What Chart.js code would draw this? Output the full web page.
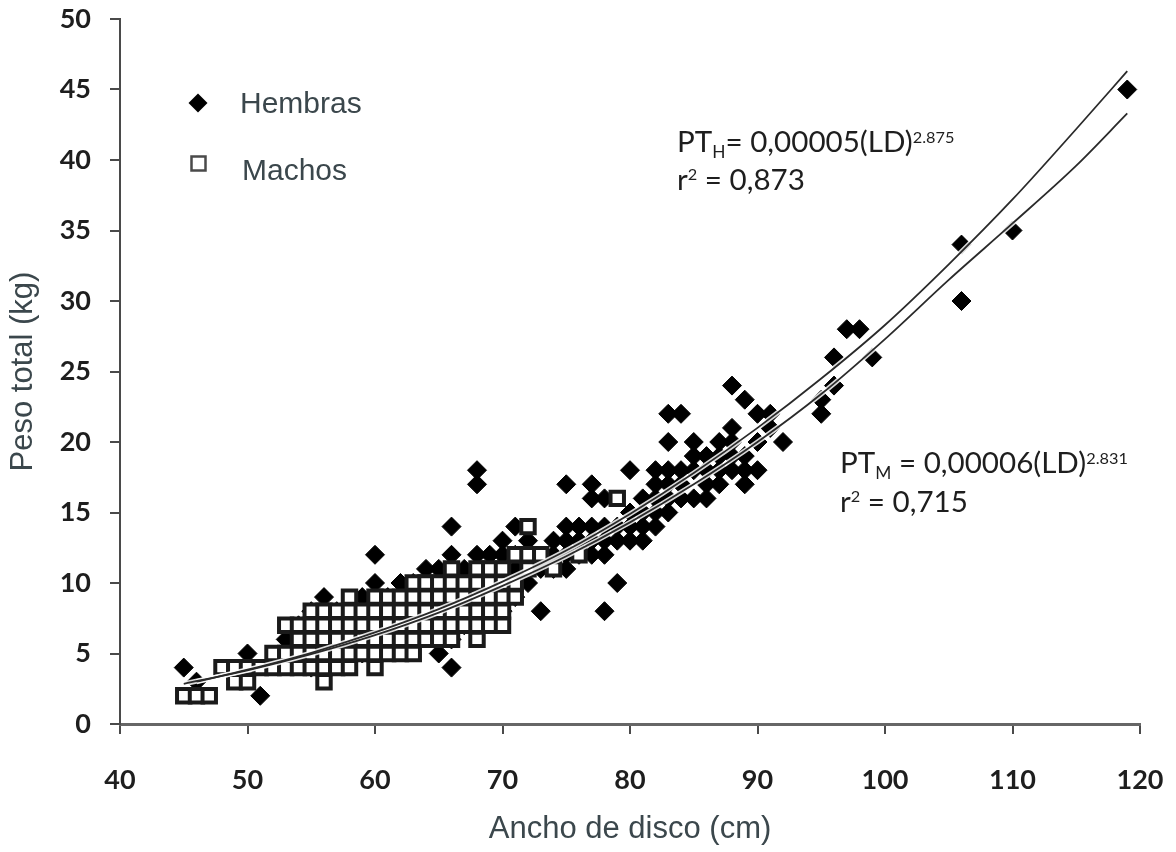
<!DOCTYPE html>
<html>
<head>
<meta charset="utf-8">
<script src="https://cdn.jsdelivr.net/npm/chart.js@4.4.1/dist/chart.umd.min.js"></script>
<style>
  html, body { margin: 0; padding: 0; background: #ffffff; }
  canvas { display: block; }
</style>
</head>
<body>
<canvas id="grafico" width="1176" height="852"></canvas>
<script>
// Ticks of both axes
const ticksAncho = [40, 50, 60, 70, 80, 90, 100, 110, 120];
const ticksPeso = [0, 5, 10, 15, 20, 25, 30, 35, 40, 45, 50];

// Series names
const nombresSeries = ['Hembras', 'Machos'];

// Females: [disc width (cm), total weight (kg)]
const hembras = [
  [45,4],[46,3],[50,5],[51,2],[53,5],[53,6],[54,5],[54,7],[55,4],[55,5],[55,6],[55,7],[55,8],
  [56,5],[56,6],[56,7],[56,9],[57,5],[57,6],[57,7],[57,8],[58,5],[58,6],[58,7],[58,8],
  [59,5],[59,6],[59,7],[59,8],[59,9],[60,6],[60,7],[60,8],[60,10],[60,12],[61,6],[61,7],[61,8],[61,9],
  [62,6],[62,7],[62,8],[62,9],[62,10],[63,6],[63,7],[63,8],[63,9],[63,10],[64,7],[64,8],[64,9],[64,10],[64,11],
  [65,5],[65,8],[65,9],[65,10],[65,11],[66,4],[66,6],[66,7],[66,8],[66,9],[66,10],[66,11],[66,12],[66,14],
  [67,7],[67,8],[67,9],[67,10],[67,11],[68,9],[68,10],[68,12],[68,17],[68,18],
  [69,8],[69,9],[69,10],[69,11],[69,12],[70,8],[70,9],[70,10],[70,11],[70,12],[70,13],
  [71,9],[71,10],[71,11],[71,12],[71,14],[72,10],[72,11],[72,12],[72,13],
  [73,8],[73,11],[74,11],[74,12],[74,13],[75,11],[75,12],[75,13],[75,14],[75,17],
  [76,12],[76,13],[76,14],[77,12],[77,13],[77,14],[77,16],[77,17],
  [78,8],[78,12],[78,13],[78,14],[78,16],[79,10],[79,13],[79,14],
  [80,13],[80,14],[80,15],[80,18],[81,13],[81,14],[81,15],[81,16],
  [82,14],[82,15],[82,16],[82,17],[82,18],[83,15],[83,16],[83,17],[83,18],[83,20],[83,22],
  [84,16],[84,17],[84,18],[84,22],[85,16],[85,18],[85,19],[85,20],
  [86,16],[86,17],[86,18],[86,19],[87,17],[87,18],[87,19],[87,20],
  [88,18],[88,19],[88,20],[88,21],[88,24],[89,17],[89,18],[89,19],[89,23],
  [90,18],[90,20],[90,22],[91,21],[91,22],[92,20],[95,22],[95,23],[96,24],[96,26],
  [97,28],[98,28],[99,26],[106,30],[106,34],[110,35],[119,45]
];

// Males: [disc width (cm), total weight (kg)]
const machos = [
  [45,2],[46,2],[47,2],[48,4],[49,3],[49,4],[50,3],[50,4],[51,4],[52,4],[52,5],
  [53,4],[53,5],[53,7],[54,4],[54,5],[54,6],[54,7],[55,4],[55,5],[55,6],[55,7],[55,8],
  [56,3],[56,4],[56,5],[56,6],[56,7],[56,8],[57,4],[57,5],[57,6],[57,7],[57,8],
  [58,4],[58,5],[58,6],[58,7],[58,8],[58,9],[59,5],[59,6],[59,7],[59,8],
  [60,4],[60,5],[60,6],[60,7],[60,8],[60,9],[61,5],[61,6],[61,7],[61,8],[61,9],
  [62,5],[62,6],[62,7],[62,8],[62,9],[63,5],[63,6],[63,7],[63,8],[63,9],[63,10],
  [64,6],[64,7],[64,8],[64,9],[64,10],[65,6],[65,7],[65,8],[65,9],[65,10],
  [66,6],[66,7],[66,8],[66,9],[66,10],[66,11],[67,7],[67,8],[67,9],[67,10],
  [68,6],[68,7],[68,8],[68,9],[68,10],[68,11],[69,7],[69,8],[69,9],[69,10],[69,11],
  [70,7],[70,8],[70,9],[70,10],[70,11],[71,9],[71,10],[71,12],
  [72,11],[72,12],[72,14],[73,12],[74,11],[76,12],[79,16]
];

// Fitted weight-width curves (points along each trend line)
const curvaHembras = [
  [46,3.0],[50,3.85],[55,5.05],[60,6.5],[65,8.15],[70,10.1],[75,12.3],[80,14.9],
  [85,17.8],[90,21.0],[95,24.5],[100,28.3],[105,32.6],[110,37.2],[115,42.2],[119,46.3]
];
const curvaMachos = [
  [45,2.85],[50,3.8],[55,4.95],[60,6.3],[65,7.9],[70,9.8],[75,11.9],[80,14.3],
  [85,17.0],[90,20.0],[95,23.4],[100,27.3],[105,31.5],[110,35.5],[115,39.6],[119,43.3]
];

// Equation annotations: [text, kind] where kind is base / sub / sup
const ecuacionHembras = [['PT', 'base'], ['H', 'sub'], ['= 0,00005(LD)', 'base'], ['2.875', 'sup']];
const r2Hembras = [['r', 'base'], ['2', 'sup2'], [' = 0,873', 'base']];
const ecuacionMachos = [['PT', 'base'], ['M', 'sub'], [' = 0,00006(LD)', 'base'], ['2.831', 'sup']];
const r2Machos = [['r', 'base'], ['2', 'sup2'], [' = 0,715', 'base']];

const toXY = (pares) => pares.map(([x, y]) => ({ x, y }));

const TEXT_DARK = '#1e1e1e';
const TEXT_SLATE = '#3b474c';

const estilos = {
  base: { size: 29, dy: 0 },
  sub: { size: 17, dy: 6 },
  sup: { size: 16, dy: -9 },
  sup2: { size: 16, dy: -10 }
};

function textoRico(ctx, x, y, partes, escalaX) {
  ctx.save();
  ctx.translate(x, y);
  ctx.scale(escalaX, 1);
  ctx.fillStyle = TEXT_DARK;
  ctx.textBaseline = 'alphabetic';
  ctx.textAlign = 'left';
  let cx = 0;
  for (const [t, tipo] of partes) {
    const e = estilos[tipo];
    ctx.font = e.size + 'px Lato';
    ctx.fillText(t, cx, e.dy);
    cx += ctx.measureText(t).width;
  }
  ctx.restore();
}

const anotaciones = {
  id: 'anotaciones',
  afterDraw(chart) {
    const ctx = chart.ctx;
    // regression equations
    textoRico(ctx, 677, 152, ecuacionHembras, 1.02);
    textoRico(ctx, 677, 190, r2Hembras, 1.02);
    textoRico(ctx, 840, 473, ecuacionMachos, 1.02);
    textoRico(ctx, 840, 512, r2Machos, 1.02);

    // legend
    ctx.save();
    ctx.fillStyle = '#000000';
    ctx.beginPath();
    const dx = 198, dy = 103, r = 9.5;
    ctx.moveTo(dx, dy - r); ctx.lineTo(dx + r, dy); ctx.lineTo(dx, dy + r); ctx.lineTo(dx - r, dy);
    ctx.closePath();
    ctx.fill();
    ctx.strokeStyle = '#4a4a4a';
    ctx.lineWidth = 2.5;
    ctx.fillStyle = '#ffffff';
    ctx.beginPath();
    ctx.rect(191.5, 156.5, 14, 14);
    ctx.fill();
    ctx.stroke();
    ctx.fillStyle = TEXT_SLATE;
    ctx.font = '30px "Liberation Sans"';
    ctx.textBaseline = 'alphabetic';
    ctx.fillText(nombresSeries[0], 240, 113);
    ctx.fillText(nombresSeries[1], 242, 180);
    ctx.restore();
  }
};

new Chart(document.getElementById('grafico'), {
  type: 'scatter',
  data: {
    datasets: [
      {
        label: nombresSeries[0],
        data: toXY(hembras),
        pointStyle: 'rectRot',
        pointRadius: 9.5,
        pointBackgroundColor: '#000000',
        pointBorderColor: '#000000',
        pointBorderWidth: 1,
        order: 4
      },
      {
        label: nombresSeries[1],
        data: toXY(machos),
        pointStyle: 'rect',
        pointRadius: 9.5,
        pointBackgroundColor: '#ffffff',
        pointBorderColor: '#1a1a1a',
        pointBorderWidth: 4,
        order: 3
      },
      {
        label: 'halo H',
        type: 'line',
        data: toXY(curvaHembras),
        borderColor: 'rgba(255,255,255,0.85)',
        borderWidth: 5,
        pointRadius: 0,
        cubicInterpolationMode: 'monotone',
        fill: false,
        order: 2
      },
      {
        label: 'halo M',
        type: 'line',
        data: toXY(curvaMachos),
        borderColor: 'rgba(255,255,255,0.85)',
        borderWidth: 5,
        pointRadius: 0,
        cubicInterpolationMode: 'monotone',
        fill: false,
        order: 2
      },
      {
        label: 'PT H',
        type: 'line',
        data: toXY(curvaHembras),
        borderColor: '#2a2a2a',
        borderWidth: 1.8,
        pointRadius: 0,
        cubicInterpolationMode: 'monotone',
        fill: false,
        order: 1
      },
      {
        label: 'PT M',
        type: 'line',
        data: toXY(curvaMachos),
        borderColor: '#2a2a2a',
        borderWidth: 1.8,
        pointRadius: 0,
        cubicInterpolationMode: 'monotone',
        fill: false,
        order: 1
      }
    ]
  },
  options: {
    responsive: false,
    animation: false,
    devicePixelRatio: 1,
    layout: { padding: { left: 0, top: 19, right: 36, bottom: 0 } },
    plugins: { legend: { display: false }, tooltip: { enabled: false } },
    scales: {
      x: {
        type: 'linear',
        min: 40,
        max: 120,
        afterBuildTicks: (s) => { s.ticks = ticksAncho.map(v => ({ value: v })); },
        afterFit: (s) => { s.height = 128; s.paddingLeft = 0; s.paddingRight = 0; },
        ticks: { color: TEXT_DARK, font: { family: 'Lato', size: 27, weight: 'bold' }, padding: 30 },
        grid: { drawOnChartArea: false, drawTicks: true, tickLength: 10, color: '#4a4a4a', lineWidth: 2 },
        border: { color: '#666666', width: 3 },
        title: {
          display: true,
          text: 'Ancho de disco (cm)',
          color: TEXT_SLATE,
          font: { family: 'Liberation Sans', size: 31 },
          padding: { top: 0, bottom: 4 }
        }
      },
      y: {
        type: 'linear',
        min: 0,
        max: 50,
        afterBuildTicks: (s) => { s.ticks = ticksPeso.map(v => ({ value: v })); },
        afterFit: (s) => { s.width = 120; s.paddingTop = 0; s.paddingBottom = 0; },
        ticks: { color: TEXT_DARK, font: { family: 'Lato', size: 27, weight: 'bold' }, padding: 19 },
        grid: { drawOnChartArea: false, drawTicks: true, tickLength: 10, color: '#4a4a4a', lineWidth: 2 },
        border: { color: '#4a4a4a', width: 2 },
        title: {
          display: true,
          text: 'Peso total (kg)',
          color: TEXT_SLATE,
          font: { family: 'Liberation Sans', size: 31 },
          padding: { top: 5, bottom: 0 }
        }
      }
    }
  },
  plugins: [anotaciones]
});
</script>
</body>
</html>
